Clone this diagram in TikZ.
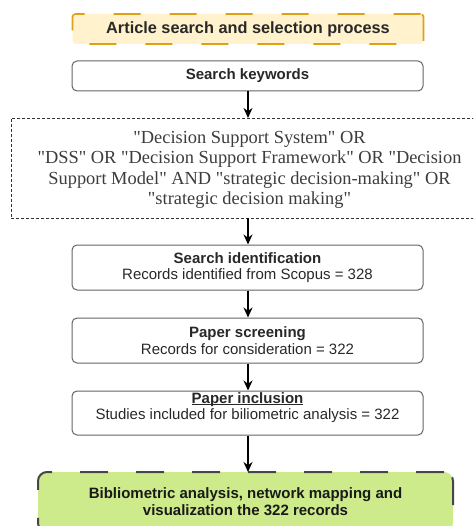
\documentclass[tikz,border=0pt]{standalone}
\usepackage{fontspec}
\setmainfont{Liberation Serif}[Ligatures=TeXOff]
\setsansfont{Liberation Sans}
\usetikzlibrary{arrows.meta}
\definecolor{titlefill}{RGB}{255,242,204}
\definecolor{titledraw}{RGB}{222,160,20}
\definecolor{boxdraw}{RGB}{100,100,100}
\definecolor{boxtext}{RGB}{40,40,40}
\definecolor{greenfill}{RGB}{205,235,139}
\definecolor{greendraw}{RGB}{70,70,70}
\definecolor{quotetext}{RGB}{60,60,60}
\tikzset{
  sansfont/.style={font=\sffamily\fontsize{15}{16}\selectfont},
  titlebox/.style={draw=titledraw, fill=titlefill, line width=1.6pt,
    dash pattern=on 27pt off 29pt, rounded corners=3pt,
    minimum width=351pt, minimum height=30pt, inner sep=0pt, text=boxtext,
    font=\sffamily\bfseries\fontsize{16.3}{18}\selectfont},
  stagebox/.style={sansfont, draw=boxdraw, line width=1pt, rounded corners=5pt,
    minimum width=351pt, inner sep=0pt, align=center, text=boxtext},
  querybox/.style={draw=black!80, line width=0.8pt, dash pattern=on 3pt off 2pt,
    minimum width=477pt, minimum height=100pt, inner sep=0pt, align=center,
    text=quotetext, font=\rmfamily\fontsize{18.4}{20.5}\selectfont},
  resultbox/.style={draw=greendraw, fill=greenfill, line width=2pt,
    dash pattern=on 28pt off 28pt, rounded corners=9pt,
    minimum width=415pt, minimum height=60pt, inner sep=0pt, align=center,
    text=black!90, font=\sffamily\bfseries\fontsize{15}{17}\selectfont},
  flow/.style={-{Stealth[length=10pt,width=9pt]}, line width=1.5pt, black}
}
\begin{document}
\begin{tikzpicture}[x=1pt,y=-1pt]
\useasboundingbox (0,0) rectangle (473,526);
\clip (0,0) rectangle (473,526);

\node[titlebox] (title) at (248,29) {Article search and selection process};
\node[stagebox, minimum height=30pt] (keywords) at (247.5,76) {\bfseries Search keywords};
\node[querybox] (query) at (249.5,168) {};
\node[align=center, text=quotetext, font=\rmfamily\fontsize{18.4}{20.5}\selectfont]
  (querytext) at (249.5,170)
  {"Decision Support System" OR\\
   "DSS" OR "Decision Support Framework" OR "Decision\\
   Support Model" AND "strategic decision-making" OR\\
   "strategic decision making"};
\node[stagebox, minimum height=45pt] (ident) at (247.5,267.5)
  {\textbf{Search identification}\\[0.5pt] Records identified from Scopus = 328};
\node[stagebox, minimum height=45pt] (screen) at (247.5,340.5)
  {\textbf{Paper screening}\\[0.5pt] Records for consideration = 322};
\node[stagebox, minimum height=44pt] (incl) at (247.5,413)
  {\textbf{\underline{\smash{Paper inclusion}}}\\[0.5pt] Studies included for biliometric analysis = 322};
\node[resultbox] (result) at (245.5,502)
  {Bibliometric analysis, network mapping and\\ visualization the 322 records};

\coordinate (qtop) at (248,118);
\coordinate (qbot) at (248,218);
\coordinate (rtop) at (248,472);
\draw[flow] (keywords.south -| qtop) -- (qtop);
\draw[flow] (qbot) -- (ident.north -| qbot);
\draw[flow] (ident.south -| qbot) -- (screen.north -| qbot);
\draw[flow] (screen.south -| qbot) -- (incl.north -| qbot);
\draw[flow] (incl.south -| qbot) -- (rtop);
\end{tikzpicture}
\end{document}
